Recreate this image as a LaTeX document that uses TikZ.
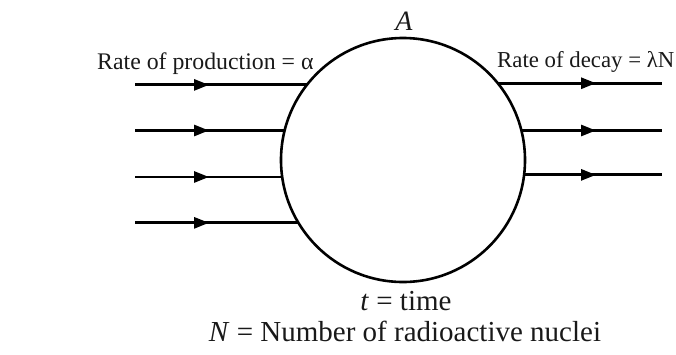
\documentclass[tikz,border=0pt]{standalone}
\usepackage{fontspec}
\setmainfont{Liberation Serif}
\usetikzlibrary{arrows.meta,decorations.markings}
\tikzset{
  lbl/.style={inner sep=0pt, text=black!90},
  flowin/.style={line width=2.8pt, postaction={decorate}, decoration={markings,
     mark=at position 74pt with {\arrow{Triangle[length=15pt,width=11pt]}}}},
  flowout/.style={line width=2.8pt, postaction={decorate}, decoration={markings,
     mark=at position -66pt with {\arrow{Triangle[length=15pt,width=11pt]}}}},
}
\begin{document}
\begin{tikzpicture}[x=1pt,y=-1pt]
\useasboundingbox (0,0) rectangle (676,354);
\node[circle, draw, line width=2.6pt, minimum size=244pt, outer sep=0pt, inner sep=0pt] (c) at (403,160) {};
% incoming
\coordinate (i1) at (135,85);
\coordinate (i2) at (135,132);
\coordinate (i3) at (135,178);
\coordinate (i4) at (135,223);
\draw[flowin] (i1 |- c.142.07) -- (c.142.07);
\draw[flowin] (i2 |- c.166.73) -- (c.166.73);
\draw[flowin] (i3 |- c.188.48) -- (c.188.48);
\draw[flowin] (i4 |- c.211.09) -- (c.211.09);
% outgoing
\coordinate (o1) at (662,82);
\coordinate (o2) at (662,129);
\coordinate (o3) at (662,176);
\draw[flowout] (c.39.73) -- (c.39.73 -| o1);
\draw[flowout] (c.14.72) -- (c.14.72 -| o2);
\draw[flowout] (c.-7.54) -- (c.-7.54 -| o3);
% labels
\node[lbl, anchor=base west, font=\fontsize{23.8}{26}\selectfont] (lp) at (97,69) {Rate of production = α};
\node[lbl, anchor=base west, font=\fontsize{22.8}{25}\selectfont] (ld) at (497,67) {Rate of decay = λN};
\node[lbl, anchor=base, font=\fontsize{28}{30}\selectfont\itshape] (la) at (404,30) {A};
\node[lbl, anchor=base, font=\fontsize{29}{31}\selectfont] (lt) at (406,310) {\textit{t} = time};
\node[lbl, anchor=base, font=\fontsize{29}{31}\selectfont] (ln) at (405,341) {\textit{N} = Number of radioactive nuclei};
\end{tikzpicture}
\end{document}
